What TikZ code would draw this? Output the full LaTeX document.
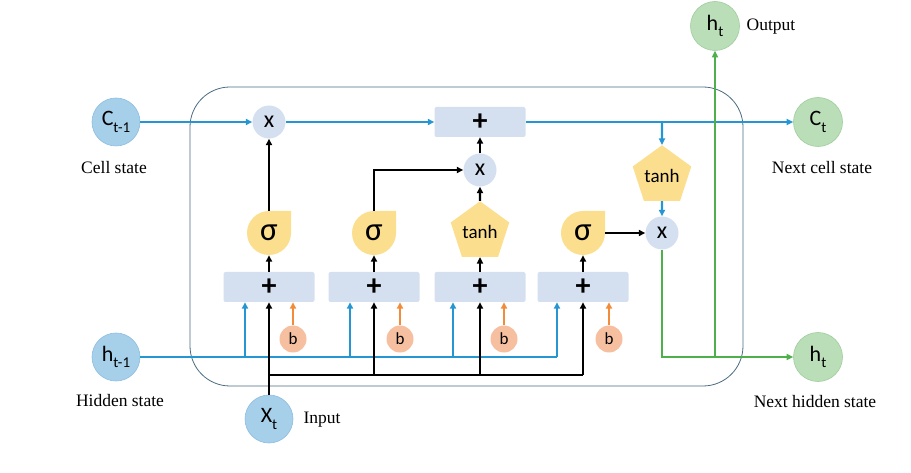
\documentclass[tikz,border=0pt]{standalone}
\usepackage{fontspec}
\setmainfont{Liberation Serif}
\newfontfamily\carl{Carlito}
\usetikzlibrary{arrows.meta,shapes.geometric}
\definecolor{lineblue}{RGB}{38,150,210}
\definecolor{circblue}{RGB}{166,207,234}
\definecolor{circblueb}{RGB}{140,190,225}
\definecolor{opfill}{RGB}{212,224,240}
\definecolor{yel}{RGB}{251,223,142}
\definecolor{gfill}{RGB}{186,223,184}
\definecolor{gline}{RGB}{77,176,74}
\definecolor{gborder}{RGB}{160,205,158}
\definecolor{oline}{RGB}{242,140,59}
\definecolor{ofill}{RGB}{246,191,160}
\definecolor{framec}{RGB}{74,107,130}
\begin{document}
\begin{tikzpicture}[x=1pt,y=-1pt,
  arr/.style={-{Triangle[length=6.5pt,width=6pt]}},
  bl/.style={draw=lineblue,line width=2.1pt},
  bk/.style={draw=black,line width=2.1pt},
  gr/.style={draw=gline,line width=2.1pt},
  og/.style={draw=oline,line width=2.1pt},
  bcirc/.style={circle,fill=circblue,draw=circblueb,line width=0.6pt,minimum size=48pt,inner sep=0pt,font=\carl\fontsize{22}{22}\selectfont},
  gcirc/.style={circle,fill=gfill,draw=gborder,line width=0.6pt,minimum size=49pt,inner sep=0pt,font=\carl\fontsize{22}{22}\selectfont},
  opc/.style={circle,fill=opfill,minimum size=33pt,inner sep=0pt,font=\carl\fontsize{24}{24}\selectfont},
  addbox/.style={rectangle,rounded corners=2pt,fill=opfill,minimum width=91pt,minimum height=30pt,inner sep=0pt,font=\carl\bfseries\fontsize{30}{30}\selectfont},
  sig/.style={rectangle,minimum size=44pt,inner sep=0pt,font=\carl\fontsize{33}{33}\selectfont,
    path picture={\fill[yel] ([xshift=22pt]path picture bounding box.center) -- ++(0,22pt) -- ++(-22pt,0) arc[start angle=90,end angle=360,radius=22pt] -- cycle;}},
  pent/.style={regular polygon,regular polygon sides=5,minimum size=51pt,fill=yel,inner sep=0pt,font=\carl\fontsize{19}{19}\selectfont},
  bnode/.style={circle,fill=ofill,minimum size=27pt,inner sep=0pt,font=\carl\fontsize{17}{17}\selectfont},
  lab/.style={font=\fontsize{17.5}{17.5}\selectfont,inner sep=0pt}
]
\useasboundingbox (0,0) rectangle (911,473);
% frame
\draw[framec,line width=0.8pt,rounded corners=40pt] (190,87) rectangle (743,386);

% nodes
\node[bcirc] (ct1) at (116,122) {C\raisebox{-0.3em}{\fontsize{15}{15}\selectfont t-1}};
\node[bcirc] (htm) at (116,357) {h\raisebox{-0.3em}{\fontsize{15}{15}\selectfont t-1}};
\node[bcirc] (xt) at (269,419) {X\raisebox{-0.3em}{\fontsize{15}{15}\selectfont t}};
\node[gcirc] (ct) at (818,122) {C\raisebox{-0.3em}{\fontsize{15}{15}\selectfont t}};
\node[gcirc] (ht) at (818,357) {h\raisebox{-0.3em}{\fontsize{15}{15}\selectfont t}};
\node[gcirc] (hto) at (715,26) {h\raisebox{-0.3em}{\fontsize{15}{15}\selectfont t}};

\node[opc] (m1) at (269,122) {x};
\node[opc] (m2) at (480,170) {x};
\node[opc] (m3) at (662,233) {x};
\node[addbox] (add) at (480,122) {+};

\node[sig] (s1) at (269,233) {σ};
\node[sig] (s2) at (374,233) {σ};
\node[pent] (t1) at (480,232) {tanh};
\node[sig] (s3) at (583,233) {σ};
\node[pent] (t2) at (662,176) {tanh};

\node[addbox] (p1) at (269,287) {+};
\node[addbox] (p2) at (374,287) {+};
\node[addbox] (p3) at (480,287) {+};
\node[addbox] (p4) at (583,287) {+};

\node[bnode] (b1) at (293,339) {b};
\node[bnode] (b2) at (400,339) {b};
\node[bnode] (b3) at (504,339) {b};
\node[bnode] (b4) at (609,339) {b};

% labels
\node[lab] (l1) at (114,168) {Cell state};
\node[lab] (l2) at (822,168) {Next cell state};
\node[lab] (l3) at (120,401) {Hidden state};
\node[lab] (l4) at (815,402) {Next hidden state};
\node[lab] (l5) at (771,27) {Output};
\node[lab] (l6) at (322,420) {Input};

% coordinates
\coordinate (bj1) at (245,357);
\coordinate (bj2) at (350,357);
\coordinate (bj3) at (453,357);
\coordinate (bj4) at (557,357);
\coordinate (kj1) at (269,375);
\coordinate (kj2) at (374,375);
\coordinate (kj3) at (480,375);
\coordinate (kj4) at (583,375);
\coordinate (cj) at (662,122);
\coordinate (gj) at (715,357);

% cell state line
\draw[bl,arr] (ct1) -- (m1);
\draw[bl,arr] (m1) -- (add.west);
\draw[bl,arr] (add.east) -- (ct);
\draw[bl,arr] (cj) -- (t2);
\draw[bl,arr] (t2) -- (m3);

% green output
\draw[gr,arr] (m3) |- (ht);
\draw[gr,arr] (gj) -- (hto);

% gates to ops
\draw[bk,arr] (s1) -- (m1);
\draw[bk,arr] (s2) |- (m2);
\draw[bk,arr] (t1) -- (m2);
\draw[bk,arr] (m2) -- (add);
\draw[bk,arr] (s3) -- (m3);

% boxes to gates
\draw[bk,arr] (p1) -- (s1);
\draw[bk,arr] (p2) -- (s2);
\draw[bk,arr] (p3) -- (t1);
\draw[bk,arr] (p4) -- (s3);

% hidden state inputs
\draw[bl] (htm) -- (bj4);
\draw[bl,arr] (bj1) -- (bj1 |- p1.south);
\draw[bl,arr] (bj2) -- (bj2 |- p2.south);
\draw[bl,arr] (bj3) -- (bj3 |- p3.south);
\draw[bl,arr] (bj4) -- (bj4 |- p4.south);

% x inputs
\draw[bk,arr] (xt) -- (p1);
\draw[bk] (kj1) -- (kj4);
\draw[bk,arr] (kj2) -- (p2);
\draw[bk,arr] (kj3) -- (p3);
\draw[bk,arr] (kj4) -- (p4);

% biases
\draw[og,arr] (b1) -- (b1 |- p1.south);
\draw[og,arr] (b2) -- (b2 |- p2.south);
\draw[og,arr] (b3) -- (b3 |- p3.south);
\draw[og,arr] (b4) -- (b4 |- p4.south);
\end{tikzpicture}
\end{document}
